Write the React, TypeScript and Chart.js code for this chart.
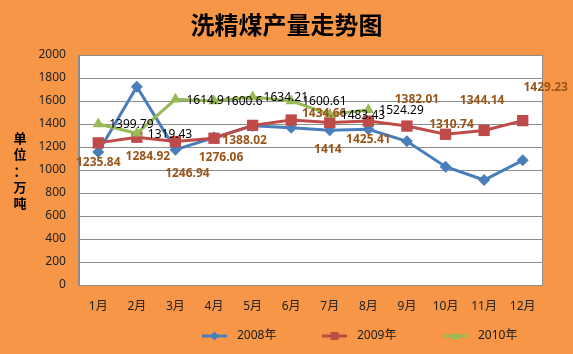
import React, { useEffect, useRef } from "react";
import { Chart, registerables } from "chart.js";

Chart.register(...registerables);

const TITLE = "洗精煤产量走势图";
const Y_TITLE = ["单", "位", "：", "万", "吨"];
const MONTHS = ["1月", "2月", "3月", "4月", "5月", "6月", "7月", "8月", "9月", "10月", "11月", "12月"];
const SERIES_NAMES = ["2008年", "2009年", "2010年"];
const Y2008 = [1156, 1725, 1177, 1282, 1385, 1367, 1346, 1354, 1250, 1029, 913, 1084];
const Y2009 = [1235.84, 1284.92, 1246.94, 1276.06, 1388.02, 1434.66, 1414, 1425.41, 1382.01, 1310.74, 1344.14, 1429.23];
const Y2010 = [1399.79, 1319.43, 1614.9, 1600.6, 1634.21, 1600.61, 1483.43, 1524.29, null, null, null, null];
const Y_MIN = 0;
const Y_MAX = 2000;
const Y_STEP = 200;

// style: label offsets (label centre relative to point) for the 2009 series
const RED_LABEL_OFFSETS: [number, number][] = [
  [0, 20], [11, 19], [12, 32], [7, 19], [-8, 15], [33, -6],
  [-2, 27], [0, 19], [10, -26], [6, -10], [-2, -30], [23, -33],
];

const COLORS = ["#4A7EBB", "#BE4B48", "#98B954"];
const BG = "#F79646";
const LABEL_BROWN = "#9A5519";
const FONT = "'Noto Sans', 'Noto Sans CJK SC', sans-serif";

export default function App() {
  const ref = useRef<HTMLCanvasElement | null>(null);

  useEffect(() => {
    document.body.style.margin = "0";
    const canvas = ref.current;
    if (!canvas) return;

    const drawMarker = (ctx: CanvasRenderingContext2D, kind: number, x: number, y: number, s: number) => {
      ctx.beginPath();
      if (kind === 0) {
        ctx.moveTo(x, y - s);
        ctx.lineTo(x + s, y);
        ctx.lineTo(x, y + s);
        ctx.lineTo(x - s, y);
        ctx.closePath();
      } else if (kind === 1) {
        ctx.rect(x - s, y - s, 2 * s, 2 * s);
      } else {
        ctx.moveTo(x, y - s);
        ctx.lineTo(x + s, y + s * 0.8);
        ctx.lineTo(x - s, y + s * 0.8);
        ctx.closePath();
      }
      ctx.fill();
    };

    const decor = {
      id: "decor",
      beforeDraw(chart: any) {
        const { ctx, chartArea: a } = chart;
        ctx.save();
        ctx.fillStyle = BG;
        ctx.fillRect(0, 0, chart.width, chart.height);
        ctx.fillStyle = "#ffffff";
        ctx.fillRect(a.left, a.top, a.right - a.left, a.bottom - a.top);
        ctx.restore();
      },
      afterDraw(chart: any) {
        const { ctx, chartArea: a } = chart;
        ctx.save();
        ctx.strokeStyle = "#8c8c8c";
        ctx.lineWidth = 1;
        ctx.strokeRect(Math.round(a.left) + 0.5, Math.round(a.top) + 0.5, Math.round(a.right - a.left), Math.round(a.bottom - a.top));
        // title
        ctx.fillStyle = "#000";
        ctx.font = "bold 24px 'Noto Sans CJK SC', sans-serif";
        ctx.textAlign = "center";
        ctx.textBaseline = "middle";
        ctx.fillText(TITLE, chart.width / 2, 25);
        // vertical y-axis title
        ctx.font = "bold 13px 'Noto Sans CJK SC', sans-serif";
        const cy = (a.top + a.bottom) / 2;
        Y_TITLE.forEach((ch, i) => {
          ctx.fillText(ch, 20, cy - 32 + i * 16.3);
        });
        // data labels
        const m2009 = chart.getDatasetMeta(1).data;
        ctx.fillStyle = LABEL_BROWN;
        ctx.font = `bold 12px ${FONT}`;
        ctx.textAlign = "center";
        Y2009.forEach((v, i) => {
          const p = m2009[i];
          if (!p || v == null) return;
          const [dx, dy] = RED_LABEL_OFFSETS[i];
          ctx.fillText(String(v), p.x + dx, p.y + dy);
        });
        const m2010 = chart.getDatasetMeta(2).data;
        ctx.fillStyle = "#000";
        ctx.font = `12px ${FONT}`;
        ctx.textAlign = "left";
        Y2010.forEach((v, i) => {
          const p = m2010[i];
          if (!p || v == null) return;
          ctx.fillText(String(v), p.x + 11, p.y + 1);
        });
        // legend
        const starts = [202, 322, 443];
        const ly = 336;
        SERIES_NAMES.forEach((name, i) => {
          const x0 = starts[i];
          ctx.strokeStyle = COLORS[i];
          ctx.lineWidth = 3;
          ctx.beginPath();
          ctx.moveTo(x0, ly);
          ctx.lineTo(x0 + 25, ly);
          ctx.stroke();
          ctx.fillStyle = COLORS[i];
          drawMarker(ctx, i, x0 + 12.5, ly, i === 1 ? 4 : 4.5);
          ctx.fillStyle = "#1a1a1a";
          ctx.font = `12px ${FONT}`;
          ctx.textAlign = "left";
          ctx.textBaseline = "middle";
          ctx.fillText(name, x0 + 35, ly);
        });
        ctx.restore();
      },
    };

    const chart = new Chart(canvas, {
      type: "line",
      data: {
        labels: MONTHS,
        datasets: [
          {
            label: SERIES_NAMES[0],
            data: Y2008,
            borderColor: COLORS[0],
            backgroundColor: COLORS[0],
            borderWidth: 3,
            pointStyle: "rectRot",
            pointRadius: 6,
            pointBorderWidth: 0,
            order: 2,
          },
          {
            label: SERIES_NAMES[1],
            data: Y2009,
            borderColor: COLORS[1],
            backgroundColor: COLORS[1],
            borderWidth: 3,
            pointStyle: "rect",
            pointRadius: 8,
            pointBorderWidth: 0,
            order: 1,
          },
          {
            label: SERIES_NAMES[2],
            data: Y2010,
            borderColor: COLORS[2],
            backgroundColor: COLORS[2],
            borderWidth: 3,
            pointStyle: "triangle",
            pointRadius: 6.5,
            pointBorderWidth: 0,
            spanGaps: false,
            order: 0,
          },
        ],
      },
      options: {
        responsive: false,
        animation: false,
        layout: { padding: { left: 25.5, right: 31, top: 55, bottom: 26.6 } },
        plugins: {
          legend: { display: false },
          tooltip: { enabled: false },
          title: { display: false },
        },
        scales: {
          x: {
            offset: true,
            grid: { display: false, drawTicks: false },
            border: { display: true, color: "#8c8c8c" },
            ticks: { color: "#222", font: { family: FONT, size: 12 }, padding: 14, maxRotation: 0, autoSkip: false },
          },
          y: {
            min: Y_MIN,
            max: Y_MAX,
            grid: { color: "#8c8c8c", drawTicks: false },
            border: { display: true, color: "#8c8c8c" },
            ticks: {
              stepSize: Y_STEP,
              color: "#222",
              font: { family: FONT, size: 12 },
              padding: 13,
              callback: (v: any) => String(v),
            },
          },
        },
      },
      plugins: [decor],
    });

    return () => chart.destroy();
  }, []);

  return <canvas ref={ref} width={573} height={354} style={{ display: "block" }} />;
}
